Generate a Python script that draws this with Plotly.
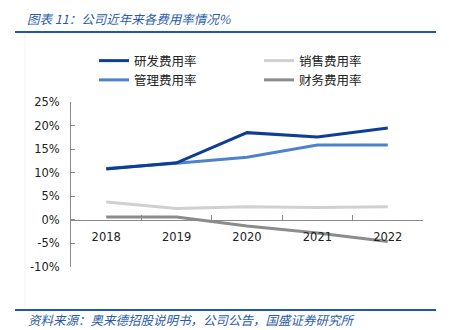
import plotly.graph_objects as go

years = ["2018", "2019", "2020", "2021", "2022"]
rd = [10.8, 12.1, 18.5, 17.6, 19.5]        # 研发费用率
sales = [3.8, 2.4, 2.8, 2.6, 2.8]          # 销售费用率
admin = [10.9, 12.0, 13.3, 15.9, 15.9]     # 管理费用率
fin = [0.6, 0.6, -1.3, -2.8, -4.6]         # 财务费用率

y_tickvals = [-10, -5, 0, 5, 10, 15, 20, 25]
y_ticktext = ["-10%", "-5%", "0%", "5%", "10%", "15%", "20%", "25%"]

names = ["研发费用率", "销售费用率", "管理费用率", "财务费用率"]
colors = ["#0C3F94", "#D0D0D0", "#4F82CA", "#8C8C8C"]

W, H = 449, 330
L, R, T, B = 71, 26, 102, 63
PW, PH = W - L - R, H - T - B


def xp(px):
    return (px - L) / PW


def yp(py):
    return (H - B - py) / PH


fig = go.Figure()
all_series = [rd, sales, admin, fin]
order = [1, 3, 2, 0]
for idx in order:
    fig.add_trace(go.Scatter(
        x=years, y=all_series[idx], mode="lines", name=names[idx],
        line=dict(color=colors[idx], width=3),
        legendrank=idx + 1,
    ))

axis_font = dict(family="DejaVu Sans, Verdana, sans-serif", size=11.5, color="#222222")

fig.update_layout(
    width=W, height=H, autosize=False,
    margin=dict(l=L, r=R, t=T, b=B, pad=0),
    paper_bgcolor="white", plot_bgcolor="white",
    showlegend=True,
    legend=dict(
        orientation="h", x=xp(94), y=yp(46), xanchor="left", yanchor="top",
        entrywidth=120, entrywidthmode="pixels",
        font=dict(family="Noto Sans CJK SC", size=12.5, color="#222222"),
        itemwidth=30, bgcolor="rgba(0,0,0,0)", traceorder="normal",
    ),
    xaxis=dict(
        type="category", range=[-0.5, 4.5], anchor="free", position=10 / 35,
        showline=True, linecolor="#8A8A8A", linewidth=1,
        ticks="inside", tickson="boundaries", ticklen=5, tickcolor="#8A8A8A",
        showgrid=False, zeroline=False, tickfont=axis_font, ticklabelstandoff=6,
    ),
    yaxis=dict(
        range=[-10, 25], tickvals=y_tickvals, ticktext=y_ticktext,
        showline=True, linecolor="#8A8A8A", linewidth=1,
        ticks="inside", ticklen=4, tickcolor="#8A8A8A",
        showgrid=False, zeroline=False, tickfont=axis_font, ticklabelstandoff=8,
    ),
)

blue = "#1F56B0"
shapes = [
    dict(type="line", xref="paper", yref="paper", x0=xp(15), x1=xp(436), y0=yp(32), y1=yp(32),
         line=dict(color=blue, width=2)),
    dict(type="line", xref="paper", yref="paper", x0=xp(15), x1=xp(436), y0=yp(310), y1=yp(310),
         line=dict(color=blue, width=2)),
    dict(type="line", xref="paper", yref="paper", x0=xp(25), x1=xp(25), y0=yp(34), y1=yp(308),
         line=dict(color="#F2F2F2", width=1)),
]
fig.update_layout(shapes=shapes)

fig.add_annotation(
    text="<i>图表 11：公司近年来各费用率情况%</i>", xref="paper", yref="paper",
    x=xp(25), y=yp(18), xanchor="left", yanchor="middle", showarrow=False,
    font=dict(family="Noto Sans CJK SC", size=12.5, color="#2A5CAA"),
)
fig.add_annotation(
    text="<i>资料来源：奥来德招股说明书，公司公告，国盛证券研究所</i>", xref="paper", yref="paper",
    x=xp(26), y=yp(319), xanchor="left", yanchor="middle", showarrow=False,
    font=dict(family="Noto Sans CJK SC", size=12.5, color="#2A5CAA"),
)

fig.write_html("out.html")
